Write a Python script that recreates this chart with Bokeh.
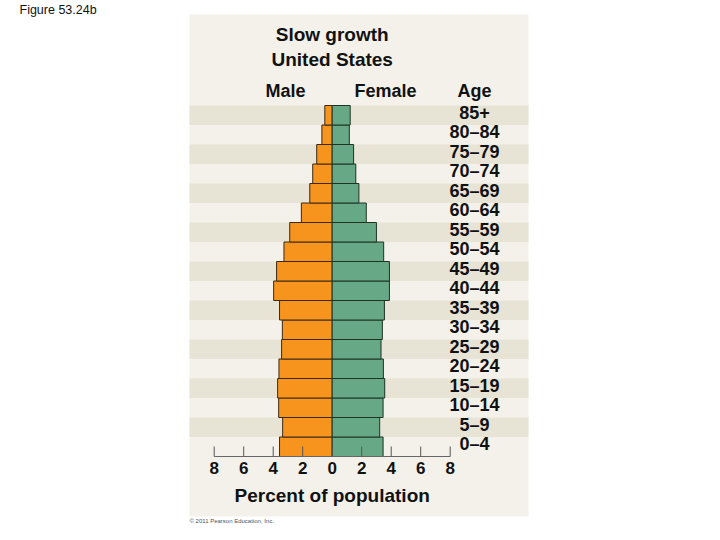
from bokeh.plotting import figure
from bokeh.models import ColumnDataSource, Range1d
from bokeh.core.properties import value
from bokeh.embed import file_html
from bokeh.resources import INLINE

# ---------------- data ----------------
ages = ["0–4", "5–9", "10–14", "15–19", "20–24", "25–29", "30–34", "35–39", "40–44",
        "45–49", "50–54", "55–59", "60–64", "65–69", "70–74", "75–79", "80–84", "85+"]
male = [3.57, 3.36, 3.63, 3.70, 3.61, 3.43, 3.38, 3.57, 3.97,
        3.77, 3.27, 2.88, 2.09, 1.52, 1.32, 1.05, 0.70, 0.50]
female = [3.45, 3.22, 3.45, 3.56, 3.47, 3.31, 3.40, 3.54, 3.88,
          3.88, 3.49, 3.00, 2.31, 1.81, 1.60, 1.45, 1.16, 1.22]
tick_values = [-8, -6, -4, -2, 0, 2, 4, 6, 8]
tick_labels = ["8", "6", "4", "2", "0", "2", "4", "6", "8"]

title_lines = ["Slow growth", "United States"]
sex_labels = ["Male", "Female"]
axis_title = "Percent of population"
age_title = "Age"
fig_label = "Figure 53.24b"
copyright_text = "© 2011 Pearson Education, Inc."

# ---------------- layout helpers (page pixels -> data) ----------------
X0, PXU = 331.7, 14.75      # page x of zero, pixels per percent
Y0, PYU = 446.25, 19.5      # page y of row 0 centre, pixels per row
OFF = 0                     # page offset of the figure
TS = 7                      # text vertical correction (px)


def px(x):
    return (x - X0) / PXU


def py(y):
    return (Y0 - y) / PYU


def ty(y, s=TS):
    return py(y - s)


W, H = 704, 532
p = figure(width=W, height=H, output_backend="svg", toolbar_location=None,
           x_range=Range1d(px(OFF), px(OFF + W)), y_range=Range1d(py(OFF + H), py(OFF)),
           min_border=0, min_border_left=0, min_border_right=0,
           min_border_top=0, min_border_bottom=0)
p.axis.visible = False
p.grid.visible = False
p.outline_line_color = None
p.background_fill_color = "white"
p.border_fill_color = "white"

FONT = value("Liberation Sans")
PANEL_L, PANEL_R, PANEL_T, PANEL_B = px(189), px(528), py(14), py(516)

# panel
p.quad(left=[PANEL_L], right=[PANEL_R], top=[PANEL_T], bottom=[PANEL_B],
       fill_color="#f3f1ea", line_color=None)

# stripes
rows = list(range(len(ages)))
dark_rows = [i for i in rows if i % 2 == 1]
p.hbar(y=dark_rows, height=1, left=PANEL_L, right=PANEL_R,
       fill_color="#e7e4d6", line_color=None)

src = ColumnDataSource(dict(y=rows, male_left=[-m for m in male], female=female, age=ages))

p.hbar(y="y", height=1, left="male_left", right=0, source=src,
       fill_color="#f7941e", line_color="#3a2a14", line_width=1)
p.hbar(y="y", height=1, left=0, right="female", source=src,
       fill_color="#67a886", line_color="#1f3325", line_width=1)

# axis line and ticks
base_y = -0.5
p.segment(x0=[tick_values[0]], x1=[tick_values[-1]], y0=[base_y], y1=[base_y],
          line_color="#666666", line_width=1)
p.segment(x0=tick_values, x1=tick_values, y0=[base_y] * len(tick_values),
          y1=[base_y + 10 / PYU] * len(tick_values), line_color="#555555", line_width=1)
p.text(x=tick_values, y=[ty(474)] * len(tick_values), text=tick_labels,
       text_font=FONT, text_font_style="bold", text_font_size="17px",
       text_align="center", text_baseline="alphabetic", text_color="#111111")
p.text(x=[0], y=[ty(501.7)], text=[axis_title],
       text_font=FONT, text_font_style="bold", text_font_size="19px",
       text_align="center", text_baseline="alphabetic", text_color="#111111")

# age labels
p.text(x=px(474), y=[r - (4.5 - TS) / PYU for r in rows], text=ages,
       text_font=FONT, text_font_style="bold", text_font_size="18px",
       text_align="center", text_baseline="alphabetic", text_color="#111111")
p.text(x=[px(474)], y=[ty(97.7)], text=[age_title],
       text_font=FONT, text_font_style="bold", text_font_size="18px",
       text_align="center", text_baseline="alphabetic", text_color="#111111")

# titles
p.text(x=[0, 0], y=[ty(41), ty(65.7)], text=title_lines,
       text_font=FONT, text_font_style="bold", text_font_size="19px",
       text_align="center", text_baseline="alphabetic", text_color="#111111")
p.text(x=[px(285), px(385)], y=[ty(97.7)] * 2, text=sex_labels,
       text_font=FONT, text_font_style="bold", text_font_size="18px",
       text_align="center", text_baseline="alphabetic", text_color="#111111")

# figure label and copyright
p.text(x=[px(19)], y=[ty(16.5)], text=[fig_label],
       text_font=FONT, text_font_size="12.5px",
       text_align="left", text_baseline="alphabetic", text_color="#111111")
p.text(x=[px(189)], y=[ty(523, 2.5)], text=[copyright_text],
       text_font=FONT, text_font_size="6px",
       text_align="left", text_baseline="alphabetic", text_color="#555555")

open("out.html", "w").write(file_html(p, INLINE))
